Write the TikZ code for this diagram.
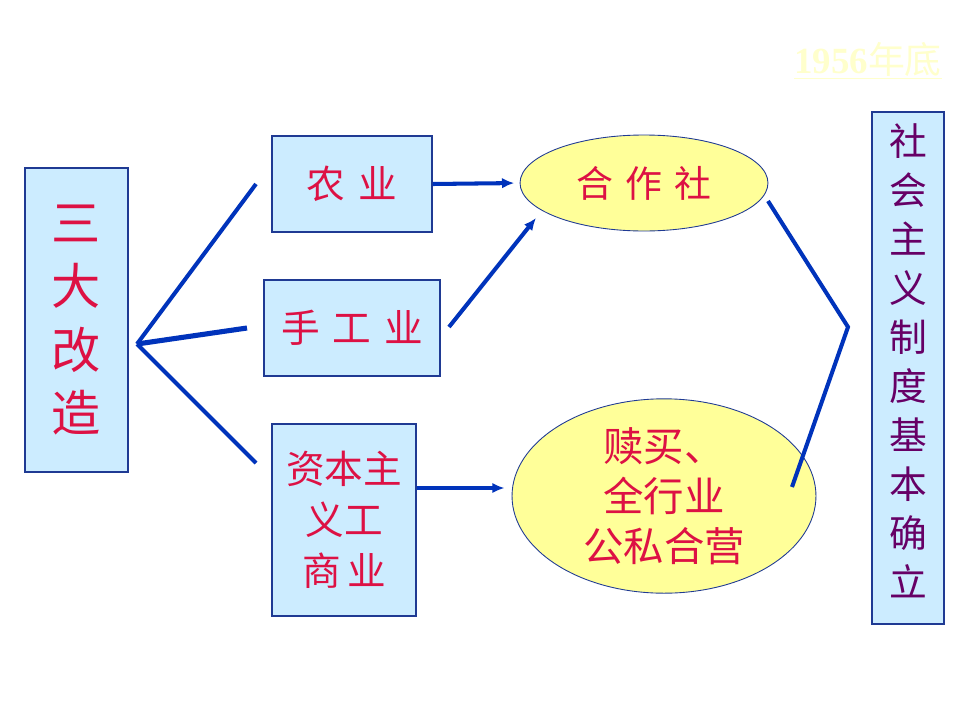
\documentclass[tikz,border=0pt]{standalone}
\usepackage{fontspec}
\newfontfamily\cjk{Noto Sans CJK SC}
\newfontfamily\tms{Liberation Serif}
\usepackage{xcolor}
\usetikzlibrary{shapes.geometric,arrows.meta}
\definecolor{boxfill}{HTML}{CCECFF}
\definecolor{boxedge}{HTML}{1F3A93}
\definecolor{linkblue}{HTML}{0033BB}
\definecolor{txtred}{HTML}{DD1144}
\definecolor{txtpurple}{HTML}{660066}
\definecolor{ovalfill}{HTML}{FFFF99}
\definecolor{paleyellow}{HTML}{FFFFCC}

\begin{document}
\begin{tikzpicture}[x=0.02cm,y=-0.02cm,
  box/.style={draw=boxedge,fill=boxfill,line width=0.7pt,inner sep=0pt,align=center,text=txtred},
  oval/.style={ellipse,draw=boxedge,fill=ovalfill,line width=0.5pt,inner sep=0pt,align=center,text=txtred},
  link/.style={draw=linkblue,line width=2.3pt},
  arr/.style={link,-{Latex[length=7pt,width=6pt]}}]
  \useasboundingbox (0,0) rectangle (960,720);

  \node[box,minimum width=2.06cm,minimum height=6.08cm,font=\cjk\fontsize{28}{36}\selectfont] (sdgz) at (76.5,320) {三\\大\\改\\造};
  \node[box,minimum width=3.2cm,minimum height=1.92cm,font=\cjk\fontsize{22}{26}\selectfont] (nong) at (352,184) {农\,\,业};
  \node[box,minimum width=3.52cm,minimum height=1.92cm,font=\cjk\fontsize{22}{26}\selectfont] (shg) at (352,328) {手\,\,工\,\,业};
  \node[box,minimum width=2.88cm,minimum height=3.84cm,font=\cjk\fontsize{22}{29}\selectfont] (zbzy) at (344,520) {资本主\\义工\\商\,业};
  \node[oval,minimum width=4.96cm,minimum height=1.92cm,font=\cjk\fontsize{21}{26}\selectfont] (hzs) at (644,183) {合\,\,作\,\,社};
  \node[oval,minimum width=6.08cm,minimum height=3.52cm,font=\cjk\fontsize{23}{28.5}\selectfont] (shm) at (664,496) {赎买、\\全行业\\公私合营};
  \draw[boxedge,fill=boxfill,line width=0.7pt] (872,112) rectangle (944,624);
  \node[align=center,text=txtpurple,font=\cjk\fontsize{21.5}{27.9}\selectfont] (zd) at (908,361) {社\\会\\主\\义\\制\\度\\基\\本\\确\\立};
  \node[text=paleyellow,font=\tms\bfseries\fontsize{21}{24}\selectfont] (nian) at (868,61) {\underline{1956{\normalfont\cjk 年底}}};

  \coordinate (apex) at (137,344);
  \coordinate (toNong) at (256,184);
  \coordinate (toShg) at (247,328);
  \coordinate (toZbzy) at (256,463);
  \coordinate (shgOut) at (449,327);
  \coordinate (hzsIn) at (536,218);
  \coordinate (hzsOut) at (768,201);
  \coordinate (join) at (848,327);
  \coordinate (shmOut) at (792,487);

  \draw[link] (apex) -- (toNong);
  \draw[link,line width=2.9pt] (apex) -- (toShg);
  \draw[link] (apex) -- (toZbzy);
  \draw[arr,shorten >=3pt] (nong.east) -- (hzs.west);
  \draw[arr] (shgOut) -- (hzsIn);
  \draw[arr,shorten >=4pt] (zbzy.east |- 0,488) -- (shm.west |- 0,488);
  \draw[link,line join=miter] (hzsOut) -- (join) -- (shmOut);
\end{tikzpicture}
\end{document}
